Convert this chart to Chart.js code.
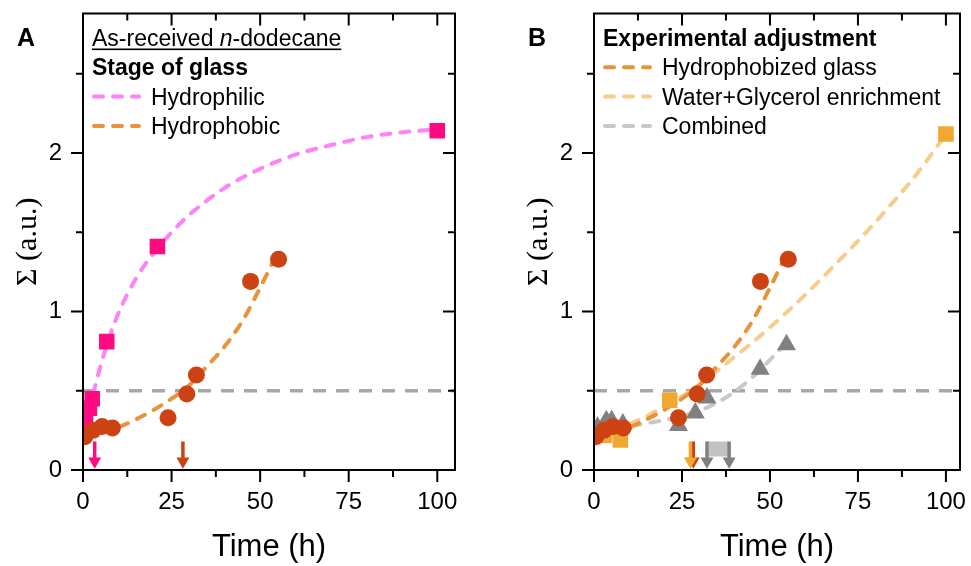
<!DOCTYPE html>
<html>
<head>
<meta charset="utf-8">
<script src="https://cdn.jsdelivr.net/npm/chart.js@4.4.1/dist/chart.umd.min.js"></script>
<style>
  html, body { margin: 0; padding: 0; background: #fff; }
  #wrap { position: relative; width: 971px; height: 566px; }
  #chartA { position: absolute; left: 0; top: 0; }
  #chartB { position: absolute; left: 486px; top: 0; }
</style>
</head>
<body>
<div id="wrap">
  <canvas id="chartA" width="486" height="566"></canvas>
  <canvas id="chartB" width="485" height="566"></canvas>
</div>
<script>
const SANS = "'Liberation Sans', Arial, sans-serif";
const SERIF = "'Liberation Serif', 'Times New Roman', serif";
Chart.defaults.font.family = SANS;
Chart.defaults.color = '#000';

// axis ticks
const xTicks = [0, 25, 50, 75, 100];
const xMinor = [12.5, 37.5, 62.5, 87.5];
const yTicks = [0, 1, 2];
const yMinor = [0.5, 1.5, 2.5];
const threshold = 0.5;

// A: hydrophilic glass (squares) + fitted curve
const philicT = [0.2, 0.7, 1.8, 2.6, 6.7, 21, 100];
const philicS = [0.29, 0.33, 0.39, 0.45, 0.81, 1.41, 2.14];
const philicFitT = [0, 2.5, 5, 7.5, 10, 15, 20, 25, 30, 40, 50, 60, 70, 80, 90, 100];
const philicFitS = [0.25, 0.45, 0.66, 0.84, 0.99, 1.21, 1.37, 1.50, 1.61, 1.78, 1.90, 1.99, 2.05, 2.10, 2.13, 2.15];

// hydrophobic / hydrophobized glass (circles) + fitted curve, used in A and B
const phobicT = [0.5, 2.8, 5.4, 8.3, 24, 29.3, 32, 47.3, 55.2];
const phobicS = [0.21, 0.25, 0.275, 0.265, 0.33, 0.48, 0.60, 1.19, 1.33];
const phobicFitT = [0, 5, 10, 15, 20, 25, 30, 35, 40, 45, 50, 55.5];
const phobicFitS = [0.21, 0.235, 0.27, 0.32, 0.38, 0.45, 0.535, 0.655, 0.78, 0.94, 1.15, 1.40];

// B: water+glycerol enrichment (squares) + fitted curve
const wgT = [1, 3, 7.5, 21.5, 100];
const wgS = [0.24, 0.22, 0.19, 0.44, 2.12];
const wgFitT = [0, 5, 10, 15, 20, 25, 30, 35, 40, 45, 50, 55, 60, 65, 70, 75, 80, 85, 90, 95, 100];
const wgFitS = [0.22, 0.25, 0.29, 0.34, 0.40, 0.465, 0.54, 0.625, 0.715, 0.805, 0.90, 1.00, 1.105, 1.215, 1.33, 1.445, 1.565, 1.69, 1.82, 1.965, 2.12];

// B: combined (triangles) + fitted curve
const combT = [1, 3.5, 5, 8.2, 24, 28.8, 32.1, 47.2, 54.7];
const combS = [0.27, 0.31, 0.31, 0.29, 0.28, 0.36, 0.455, 0.635, 0.79];
const combFitT = [0, 5, 10, 15, 20, 25, 30, 35, 40, 45, 50, 55];
const combFitS = [0.25, 0.26, 0.275, 0.295, 0.315, 0.34, 0.375, 0.425, 0.495, 0.585, 0.695, 0.81];

// onset times marked by arrows (h)
const onsetPhilic = 3.3;
const onsetPhobic = 28.2;
const onsetWG = 27.4;
const onsetCombined = [32.1, 38.4];

const C = {
  philicLine: '#FF82F6', philicPt: '#FF0A80',
  phobicLine: '#EA923A', phobicPt: '#CD4212',
  wgLine: '#F8CC8C', wgPt: '#F0A830',
  combLine: '#C8C8C8', combPt: '#808080',
  thresh: '#A8A8A8', band: '#C2C2C2'
};

const pts = (t, s) => t.map((v, i) => ({ x: v, y: s[i] }));

function fitLine(t, s, color, order) {
  return { data: pts(t, s), showLine: true, borderColor: color, borderWidth: 4,
    borderDash: [9, 10], borderCapStyle: 'round', pointRadius: 0,
    cubicInterpolationMode: 'monotone', order };
}
function markers(t, s, color, style, radius, order) {
  return { data: pts(t, s), showLine: false, pointStyle: style, pointRadius: radius,
    pointBackgroundColor: color, pointBorderColor: color, pointBorderWidth: 0, order };
}
function arrow(t, color, order) {
  return { data: [{ x: t, y: 0.18 }, { x: t, y: 0.055 }], showLine: true,
    borderColor: color, borderWidth: 3.5, pointRadius: [0, 7.5], pointStyle: 'triangle',
    pointRotation: 180, pointBackgroundColor: color, pointBorderWidth: 0, order };
}
function threshLine(xMax) {
  return { data: [{ x: 0, y: threshold }, { x: xMax, y: threshold }], showLine: true,
    borderColor: C.thresh, borderWidth: 3.5, borderDash: [13, 10], pointRadius: 0, order: 20 };
}

function scales(xMax) {
  return {
    x: {
      type: 'linear', min: 0, max: xMax,
      afterBuildTicks: s => { s.ticks = xTicks.map(v => ({ value: v })); },
      afterFit: s => { s.height = 96; s.paddingLeft = 0; s.paddingRight = 0; },
      grid: { display: false, drawTicks: false }, border: { display: false },
      ticks: { padding: 18, font: { size: 24 }, color: '#000', maxRotation: 0 },
      title: { display: true, text: 'Time (h)', font: { size: 31 }, color: '#000', padding: { top: 0, bottom: 0 } }
    },
    y: {
      type: 'linear', min: 0, max: 2.88,
      afterBuildTicks: s => { s.ticks = yTicks.map(v => ({ value: v })); },
      afterFit: s => { s.width = 83; s.paddingTop = 0; s.paddingBottom = 0; },
      grid: { display: false, drawTicks: false }, border: { display: false },
      ticks: { padding: 21, font: { size: 24 }, color: '#000' },
      title: { display: true, text: 'Σ (a.u.)', font: { family: SERIF, size: 30 }, color: '#000', padding: { top: 10, bottom: 0 } }
    }
  };
}

// frame, inward/outward ticks, panel letter and the hand-laid legend
const decor = {
  id: 'decor',
  afterDraw(chart, args, o) {
    const { ctx, chartArea: a, scales: { x, y } } = chart;
    ctx.save();
    ctx.strokeStyle = '#000';
    ctx.lineWidth = 2;
    ctx.setLineDash([]);
    ctx.strokeRect(a.left, a.top, a.right - a.left, a.bottom - a.top);
    ctx.beginPath();
    const xt = (vals, len) => vals.forEach(v => {
      const p = x.getPixelForValue(v);
      ctx.moveTo(p, a.bottom); ctx.lineTo(p, a.bottom + len);
      ctx.moveTo(p, a.top); ctx.lineTo(p, a.top + len);
    });
    const yt = (vals, len) => vals.forEach(v => {
      const p = y.getPixelForValue(v);
      ctx.moveTo(a.left - len, p); ctx.lineTo(a.left, p);
      ctx.moveTo(a.right - len, p); ctx.lineTo(a.right, p);
    });
    xt(xTicks, 12); xt(xMinor, 7);
    yt(yTicks, 12); yt(yMinor, 7);
    ctx.stroke();

    // panel letter
    ctx.fillStyle = '#000';
    ctx.textBaseline = 'alphabetic';
    ctx.textAlign = 'left';
    ctx.font = 'bold 25px ' + SANS;
    ctx.fillText(o.letter, a.left - 66, 46);

    // legend lines
    const x0 = a.left + 9;
    o.lines.forEach((ln, i) => {
      const base = 46 + 29.3 * i;
      if (ln.color) {
        ctx.save();
        ctx.strokeStyle = ln.color;
        ctx.lineWidth = 4;
        ctx.lineCap = 'round';
        ctx.setLineDash([9, 10]);
        ctx.beginPath();
        ctx.moveTo(x0 + 2, base - 8);
        ctx.lineTo(x0 + 47, base - 8);
        ctx.stroke();
        ctx.restore();
      }
      let tx = ln.color ? a.left + 68 : x0;
      const start = tx;
      ln.parts.forEach(p => {
        ctx.font = (p.style || '') + ' 23px ' + SANS;
        ctx.fillText(p.text, tx, base);
        tx += ctx.measureText(p.text).width;
      });
      if (ln.underline) {
        ctx.fillRect(start, base + 2.5, tx - start, 1.6);
      }
    });
    ctx.restore();
  }
};

function makeChart(id, datasets, xMax, padding, legend) {
  return new Chart(document.getElementById(id), {
    type: 'scatter',
    data: { datasets },
    options: {
      responsive: false,
      animation: false,
      events: [],
      layout: { padding },
      scales: scales(xMax),
      plugins: { legend: { display: false }, tooltip: { enabled: false }, decor: legend }
    },
    plugins: [decor]
  });
}

makeChart('chartA', [
  markers(phobicT, phobicS, C.phobicPt, 'circle', 8.5, 0),
  markers(philicT, philicS, C.philicPt, 'rect', 11, 1),
  arrow(onsetPhilic, C.philicPt, 2),
  arrow(onsetPhobic, C.phobicPt, 2),
  fitLine(phobicFitT, phobicFitS, C.phobicLine, 3),
  fitLine(philicFitT, philicFitS, C.philicLine, 4),
  threshLine(105)
], 105, { left: 0, right: 31, top: 13.5, bottom: 0 }, {
  letter: 'A',
  lines: [
    { parts: [{ text: 'As-received ' }, { text: 'n', style: 'italic' }, { text: '-dodecane' }], underline: true },
    { parts: [{ text: 'Stage of glass', style: 'bold' }] },
    { parts: [{ text: 'Hydrophilic' }], color: C.philicLine },
    { parts: [{ text: 'Hydrophobic' }], color: C.phobicLine }
  ]
});

makeChart('chartB', [
  markers(phobicT, phobicS, C.phobicPt, 'circle', 8.5, 0),
  markers(combT, combS, C.combPt, 'triangle', 11, 1),
  markers(wgT, wgS, C.wgPt, 'rect', 11, 2),
  arrow(onsetWG, C.wgPt, 3),
  arrow(onsetPhobic, C.phobicPt, 4),
  arrow(onsetCombined[0], C.combPt, 3),
  arrow(onsetCombined[1], C.combPt, 3),
  { data: [{ x: onsetCombined[0], y: 0.18 }, { x: onsetCombined[1], y: 0.18 }], showLine: true,
    borderWidth: 0, pointRadius: 0, fill: { target: { value: 0.085 } }, backgroundColor: C.band, order: 5 },
  fitLine(phobicFitT, phobicFitS, C.phobicLine, 6),
  fitLine(wgFitT, wgFitS, C.wgLine, 7),
  fitLine(combFitT, combFitS, C.combLine, 8),
  threshLine(104)
], 104, { left: 25, right: 8, top: 13.5, bottom: 0 }, {
  letter: 'B',
  lines: [
    { parts: [{ text: 'Experimental adjustment', style: 'bold' }] },
    { parts: [{ text: 'Hydrophobized glass' }], color: C.phobicLine },
    { parts: [{ text: 'Water+Glycerol enrichment' }], color: C.wgLine },
    { parts: [{ text: 'Combined' }], color: C.combLine }
  ]
});
</script>
</body>
</html>
